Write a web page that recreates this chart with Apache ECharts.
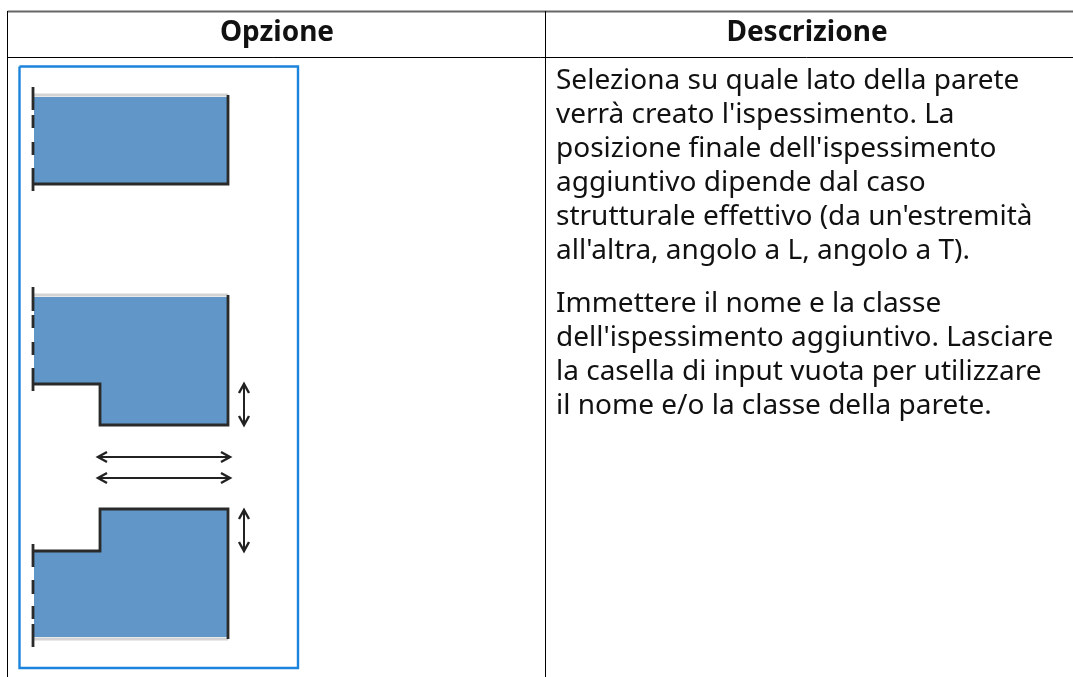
<!DOCTYPE html>
<html>

<head>
  <meta charset="UTF-8">
  <title>Opzione / Descrizione</title>
  <script src="https://cdn.jsdelivr.net/npm/echarts@6/dist/echarts.min.js"></script>
  <style>
    html,
    body {
      margin: 0;
      background: #fff;
    }

    #chart {
      width: 1073px;
      height: 677px;
    }
  </style>
</head>

<body>
  <div id="chart"></div>
  <script>
    // table text, [x, y-centre, text]
    const headerCells = [
      [277, 33, 'Opzione'],
      [807, 33, 'Descrizione']
    ];
    const descLines = [
      [556, 81, 'Seleziona su quale lato della parete'],
      [556, 115, "verrà creato l'ispessimento. La"],
      [556, 149, "posizione finale dell'ispessimento"],
      [556, 183, 'aggiuntivo dipende dal caso'],
      [556, 217, "strutturale effettivo (da un'estremità"],
      [556, 251, "all'altra, angolo a L, angolo a T)."],
      [556, 304, 'Immettere il nome e la classe'],
      [556, 338, "dell'ispessimento aggiuntivo. Lasciare"],
      [556, 372, 'la casella di input vuota per utilizzare'],
      [556, 406, 'il nome e/o la classe della parete.']
    ];

    // table rules
    const topRule = [[7.5, 11.5], [1073, 11.5]];
    const headerRule = [[7.5, 57.5], [1073, 57.5]];
    const columnRules = [
      [[7.5, 11], [7.5, 677]],
      [[545.5, 11], [545.5, 677]]
    ];
    const imageFrame = [[19.5, 66.5], [298, 66.5], [298, 668], [19.5, 668], [19.5, 66.5]];

    // wall shapes
    const wallFills = [
      [[34, 97], [227, 97], [227, 183], [34, 183]],
      [[34, 297], [227, 297], [227, 424], [100, 424], [100, 384], [34, 384]],
      [[34, 637], [227, 637], [227, 510], [100, 510], [100, 551], [34, 551]]
    ];
    const wallOutlines = [
      [[33, 184], [228, 184], [228, 95]],
      [[33, 384], [100, 384], [100, 425], [228, 425], [228, 295]],
      [[33, 551], [100, 551], [100, 509], [228, 509], [228, 639]]
    ];
    const wallGreyEdges = [
      [[34, 95], [228, 95]],
      [[34, 295], [228, 295]],
      [[34, 639], [228, 639]]
    ];
    const wallDashes = [
      [[33, 87], [33, 110]], [[33, 115], [33, 128]], [[33, 142], [33, 155]], [[33, 168], [33, 191]],
      [[33, 287], [33, 311]], [[33, 315], [33, 328]], [[33, 342], [33, 355]], [[33, 368], [33, 391]],
      [[33, 544], [33, 567]], [[33, 580], [33, 594]], [[33, 606], [33, 619]], [[33, 624], [33, 647]]
    ];

    // double arrows and their open heads
    const arrowShafts = [
      [[244, 383], [244, 426]],
      [[98, 457], [230, 457]],
      [[98, 478], [230, 478]],
      [[244, 509], [244, 552]]
    ];
    const arrowHeads = [
      [[239, 393], [244, 384], [249, 393]],
      [[239, 416], [244, 425], [249, 416]],
      [[107, 452], [98, 457], [107, 462]],
      [[221, 452], [230, 457], [221, 462]],
      [[107, 473], [98, 478], [107, 483]],
      [[221, 473], [230, 478], [221, 483]],
      [[239, 519], [244, 510], [249, 519]],
      [[239, 542], [244, 551], [249, 542]]
    ];

    const BLACK = '#000000';
    const FONT = '"Noto Sans", sans-serif';

    // each path goes through the axes with api.coord
    function pathSeries(paths, style, closed) {
      return {
        type: 'custom',
        coordinateSystem: 'cartesian2d',
        silent: true,
        clip: false,
        data: paths.map((p, i) => [i]),
        renderItem: function (params, api) {
          const pts = paths[params.dataIndex].map(p => api.coord(p));
          return {
            type: closed ? 'polygon' : 'polyline',
            shape: { points: pts },
            style: style
          };
        }
      };
    }

    function textSeries(rows, font, align) {
      return {
        type: 'custom',
        coordinateSystem: 'cartesian2d',
        silent: true,
        clip: false,
        data: rows.map(r => [r[0], r[1]]),
        renderItem: function (params, api) {
          const pos = api.coord([api.value(0), api.value(1)]);
          return {
            type: 'text',
            x: pos[0],
            y: pos[1],
            style: {
              text: rows[params.dataIndex][2],
              font: font,
              fill: '#111111',
              align: align,
              verticalAlign: 'middle'
            }
          };
        }
      };
    }

    function line(color, width) {
      return { fill: null, stroke: color, lineWidth: width, lineJoin: 'miter' };
    }

    const myChart = echarts.init(document.getElementById('chart'), null, { renderer: 'canvas' });
    myChart.setOption({
      animation: false,
      backgroundColor: '#ffffff',
      grid: { left: 0, right: 0, top: 0, bottom: 0 },
      xAxis: { type: 'value', min: 0, max: 1073, show: false },
      yAxis: { type: 'value', min: 0, max: 677, inverse: true, show: false },
      series: [
        pathSeries([topRule], line('#666666', 2)),
        pathSeries([headerRule].concat(columnRules), line(BLACK, 1)),
        pathSeries([imageFrame], line('#1c84dc', 2.4)),
        pathSeries(wallFills, { fill: '#6196c9' }, true),
        pathSeries(wallGreyEdges, line('#d4d4d4', 3)),
        pathSeries(wallOutlines, line('#2a2a2a', 2.8)),
        pathSeries(wallDashes, line('#2a2a2a', 2.8)),
        pathSeries(arrowShafts, line('#222222', 2)),
        pathSeries(arrowHeads, line('#222222', 2.4)),
        textSeries(headerCells, 'bold 28px ' + FONT, 'center'),
        textSeries(descLines, '28px ' + FONT, 'left')
      ]
    });
  </script>
</body>

</html>
